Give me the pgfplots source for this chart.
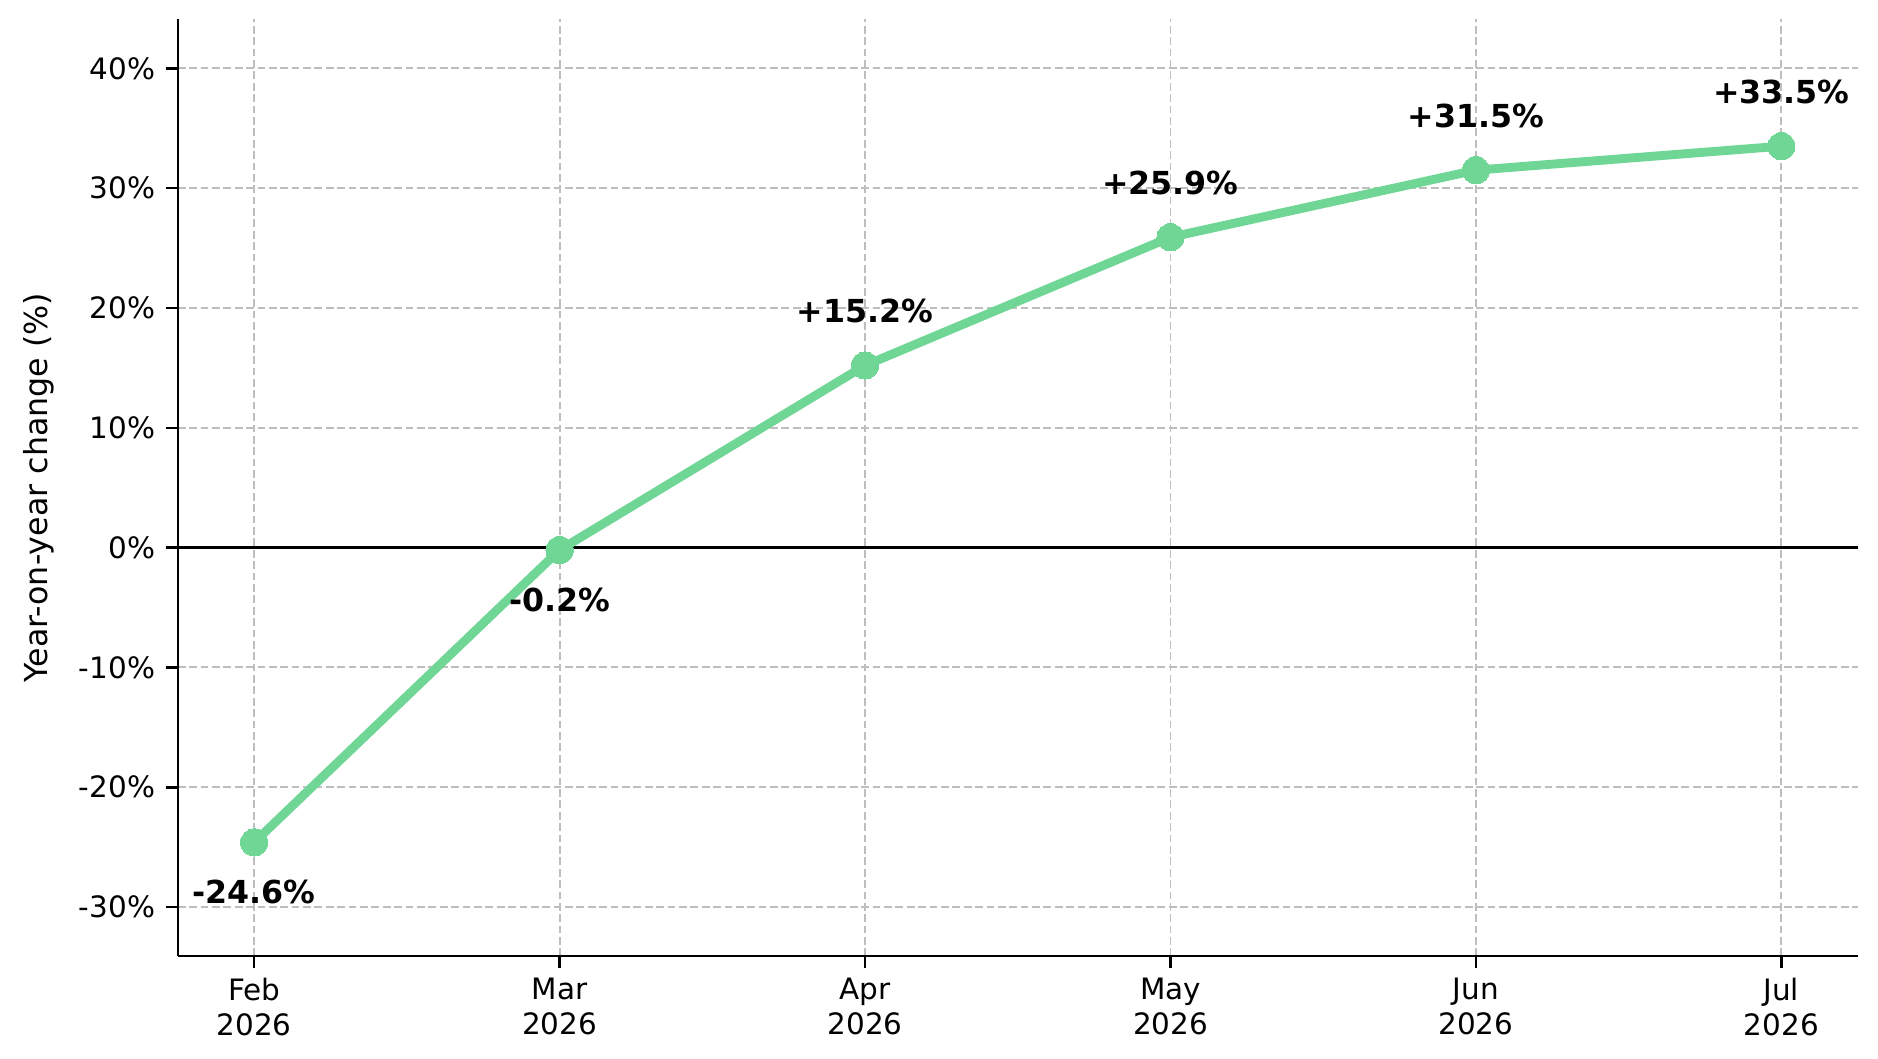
\documentclass[border=0pt]{standalone}
\usepackage{pgfplots}
\pgfplotsset{compat=1.18}
\usepackage{fontspec}
\setmainfont{DejaVu Sans}
\definecolor{lgreen}{RGB}{111,214,150}
\definecolor{gridc}{RGB}{190,190,190}
\begin{document}
\begin{tikzpicture}
\begin{axis}[
  at={(0,0)}, anchor=south west,
  scale only axis, width=604.7pt, height=337.3pt,
  xmin=-0.25, xmax=5.25, ymin=-34.1, ymax=44.1,
  axis x line*=bottom, axis y line*=left,
  axis line style={line width=0.9pt, -},
  tick align=outside, major tick length=4.2pt,
  every tick/.style={line width=0.9pt, black},
  font=\fontsize{10.6}{12.3}\selectfont,
  xtick={0,1,2,3,4,5},
  xticklabels={{Feb\\2026},{Mar\\2026},{Apr\\2026},{May\\2026},{Jun\\2026},{Jul\\2026}},
  xticklabel style={align=center, inner sep=0pt, yshift=-3.6pt},
  ytick={-30,-20,-10,0,10,20,30,40},
  yticklabels={-30\%,-20\%,-10\%,0\%,10\%,20\%,30\%,40\%},
  yticklabel style={inner sep=0pt, xshift=-3.8pt},
  grid=major,
  major grid style={gridc, line width=0.7pt, dash pattern=on 2.8pt off 1.3pt},
  ylabel={Year-on-year change (\%)},
  ylabel style={at={(axis description cs:-0.083,0.5)}, rotate=0, anchor=center, font=\fontsize{11.4}{13.5}\selectfont},
  clip=false,
]
\addplot[black, line width=1pt, forget plot] coordinates {(-0.25,0) (5.25,0)};
\addplot[lgreen, line width=3.2pt, mark=*, mark size=4.9pt, mark options={solid, fill=lgreen, draw=lgreen, line width=0pt}]
  coordinates {(0,-24.6) (1,-0.2) (2,15.2) (3,25.9) (4,31.5) (5,33.5)};
\addplot[draw=none, mark=none, nodes near coords, point meta=explicit symbolic,
  nodes near coords style={anchor=base, yshift=15.5pt, inner sep=0pt, font=\fontsize{11.4}{13.5}\selectfont\bfseries, text=black}]
  coordinates {(2,15.2) [+15.2\%] (3,25.9) [+25.9\%] (4,31.5) [+31.5\%] (5,33.5) [+33.5\%]};
\addplot[draw=none, mark=none, nodes near coords, point meta=explicit symbolic,
  nodes near coords style={anchor=base, yshift=-22pt, inner sep=0pt, font=\fontsize{11.4}{13.5}\selectfont\bfseries, text=black}]
  coordinates {(0,-24.6) [-24.6\%] (1,-0.2) [-0.2\%]};
\end{axis}
\pgfresetboundingbox
\path[use as bounding box] (-64pt,-36.8pt) rectangle (612pt,344.2pt);
\end{tikzpicture}
\end{document}
